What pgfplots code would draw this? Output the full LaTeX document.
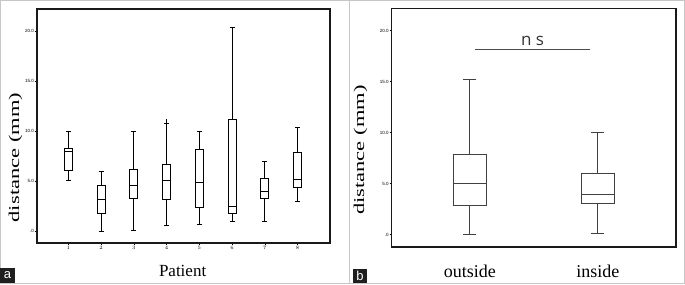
\documentclass[border=0pt]{standalone}
\usepackage{pgfplots}
\pgfplotsset{compat=1.18}
\usepgfplotslibrary{statistics}
\usepackage{graphicx}
\usepackage{fontspec}
\setmainfont{Liberation Serif}
\newfontfamily\tickfont{Liberation Sans}
\newfontfamily\nsfont{Open Sans}

\pgfplotsset{
  spssaxis/.style={
    scale only axis,
    ymin=-1.17, ymax=22.2,
    ytick={0,5,10,15,20},
    yticklabels={.0,5.0,10.0,15.0,20.0},
    tick pos=left,
    tick align=outside,
    major tick length=2pt,
    axis line style={line width=1.2pt, black!90},
    tick style={black, line width=0.6pt},
    yticklabel style={font=\tickfont\fontsize{4.5}{5}\selectfont, inner sep=0.8pt},
    xticklabel style={font=\tickfont\fontsize{4.5}{5}\selectfont, inner sep=1pt},
    clip=false,
    boxplot/draw direction=y,
  },
  lbox/.style={black, solid, line width=1pt, fill=none, mark=none},
  rbox/.style={black!75, solid, line width=1pt, fill=none, mark=none},
}

\begin{document}
\begin{tikzpicture}
\useasboundingbox (0pt,0pt) rectangle (685pt,284pt);

% ---------------- panel a ----------------
\begin{axis}[spssaxis,
  at={(37pt,41pt)}, anchor=south west,
  width=293pt, height=234pt,
  xmin=0.04, xmax=8.99,
  xtick={1,2,3,4,5,6,7,8},
  xlabel={Patient},
  xlabel style={font=\fontsize{17}{17}\selectfont, at={(axis description cs:0.497,-0.1175)}, anchor=center},
  ylabel={\scalebox{1.5}[1]{distance (mm)}},
  ylabel style={font=\fontsize{15}{15}\selectfont, at={(axis description cs:-0.073,0.365)}, anchor=center},
]
\addplot[lbox, boxplot prepared={draw direction=y, draw position=1, lower whisker=5.1, lower quartile=6.03, median=7.95, upper quartile=8.26, upper whisker=9.93, box extend=0.25, whisker extend=0.15}] coordinates {};
\addplot[lbox, boxplot prepared={draw direction=y, draw position=2, lower whisker=0.0, lower quartile=1.73, median=3.16, upper quartile=4.56, upper whisker=6.0, box extend=0.25, whisker extend=0.15}] coordinates {};
\addplot[lbox, boxplot prepared={draw direction=y, draw position=3, lower whisker=0.1, lower quartile=3.3, median=4.53, upper quartile=6.2, upper whisker=9.99, box extend=0.25, whisker extend=0.15}] coordinates {};
\addplot[lbox, boxplot prepared={draw direction=y, draw position=4, lower whisker=0.6, lower quartile=3.2, median=5.06, upper quartile=6.7, upper whisker=10.8, box extend=0.25, whisker extend=0.15}] coordinates {};
\addplot[lbox] coordinates {(4,10.8) (4,11.2)};
\addplot[lbox, boxplot prepared={draw direction=y, draw position=5, lower whisker=0.7, lower quartile=2.33, median=4.86, upper quartile=8.16, upper whisker=10.0, box extend=0.25, whisker extend=0.15}] coordinates {};
\addplot[lbox, boxplot prepared={draw direction=y, draw position=6, lower whisker=1.0, lower quartile=1.8, median=2.5, upper quartile=11.2, upper whisker=20.33, box extend=0.25, whisker extend=0.15}] coordinates {};
\addplot[lbox, boxplot prepared={draw direction=y, draw position=7, lower whisker=0.96, lower quartile=3.23, median=3.93, upper quartile=5.26, upper whisker=6.93, box extend=0.25, whisker extend=0.15}] coordinates {};
\addplot[lbox, boxplot prepared={draw direction=y, draw position=8, lower whisker=2.93, lower quartile=4.36, median=5.13, upper quartile=7.86, upper whisker=10.4, box extend=0.25, whisker extend=0.15}] coordinates {};
\end{axis}

% ---------------- panel b ----------------
\begin{axis}[spssaxis,
  at={(391.7pt,37pt)}, anchor=south west,
  width=284.3pt, height=238.7pt,
  xmin=0.39, xmax=2.61, ymin=-1.2, ymax=22.2,
  xtick={1,2}, xticklabels={outside,inside},
  xtick style={draw=none},
  xticklabel style={font=\fontsize{18}{18}\selectfont, yshift=-15pt},
  ylabel={\scalebox{1.5}[1]{distance (mm)}},
  ylabel style={font=\fontsize{15}{15}\selectfont, at={(axis description cs:-0.11,0.406)}, anchor=center},
]
\addplot[rbox, boxplot prepared={draw direction=y, draw position=1, lower whisker=0.0, lower quartile=2.85, median=5.0, upper quartile=7.88, upper whisker=15.2, box extend=0.255, whisker extend=0.1}] coordinates {};
\addplot[rbox, boxplot prepared={draw direction=y, draw position=2, lower whisker=0.1, lower quartile=3.1, median=3.99, upper quartile=6.05, upper whisker=10.0, box extend=0.255, whisker extend=0.1}] coordinates {};
\addplot[black!70, line width=0.8pt, mark=none] coordinates {(1.04,18.17) (1.94,18.17)};
\node[font=\nsfont\fontsize{17}{17}\selectfont, anchor=base, text=black!80] at (axis cs:1.49,18.6) {n s};
\end{axis}

% ---------------- panel frames and letters ----------------
\draw[black!22, line width=1pt] (0.5pt,0.5pt) rectangle (684.5pt,283.5pt);
\draw[black!22, line width=1pt] (349pt,0pt) -- (349pt,284pt);
\fill[black!88] (0pt,1pt) rectangle (15pt,16pt);
\node[white, font=\tickfont\fontsize{13}{13}\selectfont] at (7.5pt,8.5pt) {a};
\fill[black!88] (353pt,1pt) rectangle (367pt,15pt);
\node[white, font=\tickfont\fontsize{13}{13}\selectfont] at (360pt,8pt) {b};
\end{tikzpicture}
\end{document}
